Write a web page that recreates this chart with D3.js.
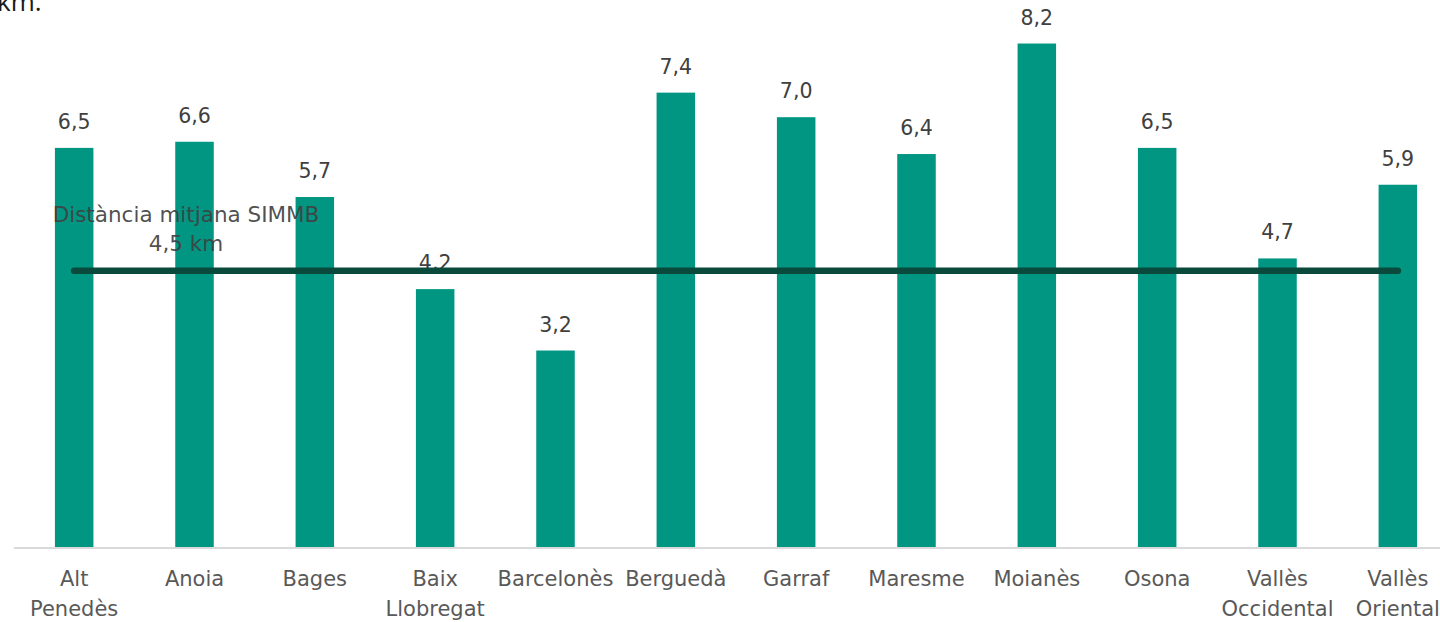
<!DOCTYPE html>
<html>
<head>
<meta charset="utf-8">
<script src="https://cdn.jsdelivr.net/npm/d3@7"></script>
<style>
  html, body { margin: 0; padding: 0; background: #fff; overflow: hidden; }
  svg { display: block; font-family: "DejaVu Sans", "Noto Sans", sans-serif; }
</style>
</head>
<body>
<svg id="chart" width="1440" height="622"></svg>
<script>
// Average distance per comarca (km)
const categories = ["Alt Penedès", "Anoia", "Bages", "Baix Llobregat", "Barcelonès", "Berguedà",
  "Garraf", "Maresme", "Moianès", "Osona", "Vallès Occidental", "Vallès Oriental"];
const values = [6.5, 6.6, 5.7, 4.2, 3.2, 7.4, 7.0, 6.4, 8.2, 6.5, 4.7, 5.9];
const averageValue = 4.5;
const averageLabel = ["Distància mitjana SIMMB", "4,5 km"];
const headerFragment = "km.";

const svg = d3.select("#chart");
const baseY = 547;

const x = d3.scaleBand()
  .domain(categories)
  .range([14, 1458])
  .paddingInner(0.68)
  .paddingOuter(0.34);

const y = d3.scaleLinear()
  .domain([0, 9])
  .range([baseY, baseY - 9 * 61.4]);

const fmt = v => d3.format(".1f")(v).replace(".", ",");

// clipped header text at the top edge
svg.append("text")
  .attr("x", -3).attr("y", 11)
  .attr("font-size", 26)
  .attr("font-family", "Open Sans, sans-serif")
  .attr("fill", "#1a1a1a")
  .text(headerFragment);

// baseline axis
svg.append("line")
  .attr("x1", 14).attr("x2", 1440)
  .attr("y1", baseY + 1).attr("y2", baseY + 1)
  .attr("stroke", "#d9d9d9").attr("stroke-width", 2);

// bars
svg.append("g").selectAll("rect")
  .data(values)
  .join("rect")
  .attr("x", (d, i) => x(categories[i]))
  .attr("width", x.bandwidth())
  .attr("y", d => y(d))
  .attr("height", d => y(0) - y(d))
  .attr("fill", "#009682");

// value labels
svg.append("g").selectAll("text")
  .data(values)
  .join("text")
  .attr("x", (d, i) => x(categories[i]) + x.bandwidth() / 2)
  .attr("y", d => y(d) - 19)
  .attr("text-anchor", "middle")
  .attr("font-size", 20.5)
  .attr("fill", "#404040")
  .text(d => fmt(d));

// average line
const cx0 = x(categories[0]) + x.bandwidth() / 2;
const cx1 = x(categories[categories.length - 1]) + x.bandwidth() / 2;
svg.append("line")
  .attr("x1", cx0).attr("x2", cx1)
  .attr("y1", y(averageValue)).attr("y2", y(averageValue))
  .attr("stroke", "#0a4a3c").attr("stroke-width", 6.5)
  .attr("stroke-linecap", "round");

// average label
const avgText = svg.append("text")
  .attr("text-anchor", "middle")
  .attr("font-size", 21.5)
  .attr("fill", "#404040")
  .attr("fill-opacity", 0.92);
averageLabel.forEach((line, i) => {
  avgText.append("tspan")
    .attr("x", 186)
    .attr("y", 222 + i * 29)
    .text(line);
});

// category labels
const cat = svg.append("g").selectAll("text")
  .data(categories)
  .join("text")
  .attr("text-anchor", "middle")
  .attr("font-size", 21)
  .attr("fill", "#595959");
cat.each(function (d) {
  const t = d3.select(this);
  const parts = d.split(" ");
  const cx = x(d) + x.bandwidth() / 2;
  parts.forEach((p, i) => {
    t.append("tspan").attr("x", cx).attr("y", 586 + i * 30).text(p);
  });
});
</script>
</body>
</html>
